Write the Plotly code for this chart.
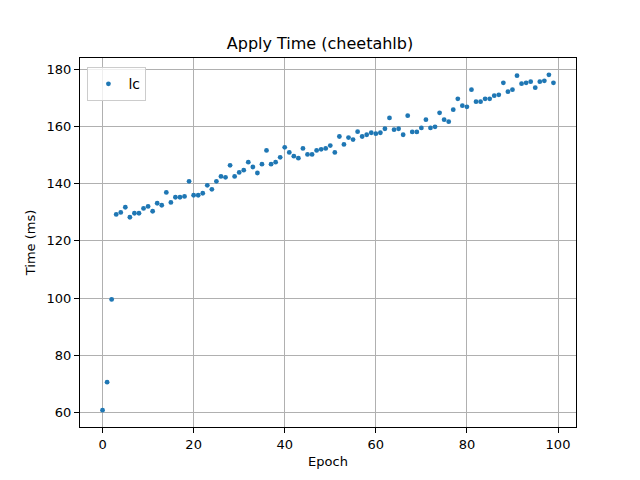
import plotly.graph_objects as go

epochs = list(range(100))
apply_time_ms = [
    60.7, 70.5, 99.5, 129.3, 130.0, 131.8, 128.3, 129.7, 129.7, 131.4,
    132.1, 130.4, 133.2, 132.5, 137.0, 133.5, 135.3, 135.3, 135.6, 140.9,
    136.0, 136.0, 136.7, 139.5, 138.1, 140.9, 142.6, 142.3, 146.5, 142.6,
    144.0, 144.8, 147.6, 145.9, 143.8, 146.9, 151.7, 146.9, 147.6, 149.3,
    152.8, 151.0, 149.7, 149.0, 152.4, 150.3, 150.3, 151.7, 152.1, 152.4,
    153.4, 151.0, 156.6, 153.8, 156.2, 155.5, 158.3, 156.6, 157.2, 157.9,
    157.6, 157.9, 159.3, 163.1, 159.0, 159.3, 157.2, 163.9, 158.2, 158.2,
    159.6, 162.5, 159.6, 160.0, 164.9, 162.5, 161.8, 166.0, 169.8, 167.4,
    167.0, 173.0, 168.8, 168.8, 169.8, 169.8, 170.9, 171.2, 175.4, 172.3,
    173.0, 177.9, 175.1, 175.4, 175.8, 173.7, 175.8, 176.1, 178.2, 175.4,
]
x_ticks = [0, 20, 40, 60, 80, 100]
y_ticks = [60, 80, 100, 120, 140, 160, 180]

FONT = "DejaVu Sans"

fig = go.Figure()
fig.add_trace(go.Scatter(
    x=epochs, y=apply_time_ms, mode="markers", name="lc",
    marker=dict(color="#1f77b4", size=4.8),
))

axis_common = dict(
    showline=True, linecolor="black", linewidth=1, mirror=True,
    ticks="outside", ticklen=5, tickwidth=1, tickcolor="black",
    showgrid=True, gridcolor="#b0b0b0", gridwidth=1,
    zeroline=False,
    tickfont=dict(family=FONT, size=13, color="black"),
)

fig.update_layout(
    width=640, height=480,
    paper_bgcolor="white", plot_bgcolor="white",
    margin=dict(l=80, r=64, t=58, b=53),
    font=dict(family=FONT, color="black"),
    title=dict(text="Apply Time (cheetahlb)", x=0.5, xanchor="center",
               y=1 - 43 / 480, yanchor="middle",
               font=dict(family=FONT, size=16, color="black")),
    xaxis=dict(axis_common, range=[-4.95, 103.95], tickvals=x_ticks,
               title=dict(text="Epoch", font=dict(family=FONT, size=13), standoff=6)),
    yaxis=dict(axis_common, range=[54.8, 184.1], tickvals=y_ticks,
               title=dict(text="Time (ms)", font=dict(family=FONT, size=13), standoff=8)),
    showlegend=True,
    legend=dict(x=0.015, y=0.975, xanchor="left", yanchor="top",
                bgcolor="rgba(255,255,255,0.8)", bordercolor="#cccccc", borderwidth=1,
                font=dict(family=FONT, size=14, color="black")),
)

fig.write_html("out.html", config={"displayModeBar": False},
               post_script="document.body.style.margin='0';")
